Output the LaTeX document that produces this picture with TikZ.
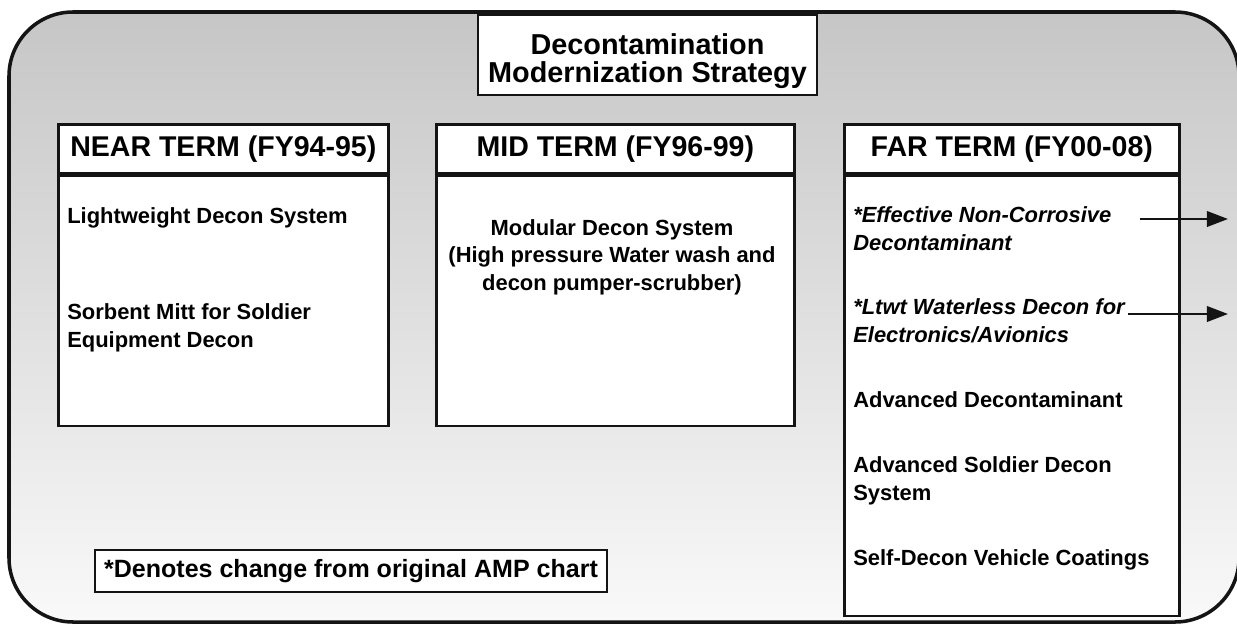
\documentclass[tikz,border=0pt]{standalone}
\usepackage{fontspec}
\setmainfont{Liberation Sans}
\usetikzlibrary{arrows.meta, positioning}
\definecolor{colFrame}{RGB}{20,20,20}
\definecolor{colTop}{RGB}{198,198,198}
\definecolor{colMid}{RGB}{234,234,234}
\definecolor{colBottom}{RGB}{249,249,249}
\tikzset{
    outerframe/.style={draw=colFrame, line width=2.5pt, rounded corners=1.6cm},
    titlebox/.style={rectangle, draw=colFrame, line width=1.8pt, fill=white, align=center,
        minimum width=8.475cm, minimum height=2cm, inner sep=0pt,
        font=\fontsize{20.5}{20}\selectfont\bfseries},
    headbox/.style={rectangle, draw=colFrame, line width=1.8pt, fill=white, anchor=north west,
        minimum height=1.225cm, inner sep=0pt, font=\fontsize{20.3}{24}\selectfont\bfseries},
    bodybox/.style={rectangle, draw=colFrame, line width=1.8pt, fill=white, inner sep=0pt},
    item/.style={anchor=base west, align=left, inner sep=0pt,
        font=\fontsize{15.6}{19.5}\selectfont\bfseries},
    newitem/.style={item, font=\fontsize{15.6}{19.5}\selectfont\bfseries\itshape},
    notebox/.style={rectangle, draw=colFrame, line width=1.8pt, fill=white, inner sep=0pt,
        minimum width=12.8cm, minimum height=1.05cm, font=\fontsize{17.8}{20}\selectfont\bfseries},
    sepline/.style={draw=colFrame, line width=3pt},
    arrow/.style={-{Triangle[length=15pt, width=11pt]}, line width=1.7pt, draw=colFrame}
}

\begin{document}
\begin{tikzpicture}[x=0.025cm, y=-0.025cm]

    \useasboundingbox (0,0) rectangle (1237,625);

    \shade[top color=colTop, middle color=colMid, bottom color=colBottom, rounded corners=1.6cm]
        (9,12) rectangle (1239,622);
    \draw[outerframe] (9,12) rectangle (1239,622);

    \node[titlebox] (title) at (647.5,55) {\rule{0pt}{24pt}Decontamination\\Modernization Strategy};

    \node[headbox, minimum width=8.25cm] (nearhd) at (57,123) {NEAR TERM (FY94-95)};
    \node[bodybox, below=0pt of nearhd, minimum width=8.25cm, minimum height=6.25cm] (nearbd) {};
    \draw[sepline] (nearhd.south west) -- (nearhd.south east);

    \node[headbox, minimum width=8.95cm] (midhd) at (435,123) {MID TERM (FY96-99)};
    \node[bodybox, below=0pt of midhd, minimum width=8.95cm, minimum height=6.25cm] (midbd) {};
    \draw[sepline] (midhd.south west) -- (midhd.south east);

    \node[headbox, minimum width=8.375cm] (farhd) at (843,123) {FAR TERM (FY00-08)};
    \node[bodybox, below=0pt of farhd, minimum width=8.375cm, minimum height=11cm] (farbd) {};
    \draw[sepline] (farhd.south west) -- (farhd.south east);

    \node[item] (lwds) at (67,223) {Lightweight Decon System};
    \node[item] (mitt) at (67,347) {Sorbent Mitt for Soldier\\Equipment Decon};

    \node[item, anchor=base, align=center] (mds) at (612,290)
        {Modular Decon System\\(High pressure Water wash and\\decon pumper-scrubber)};

    \node[newitem] (eff) at (853,250) {*Effective Non-Corrosive\\Decontaminant};
    \node[newitem] (ltwt) at (853,342) {*Ltwt Waterless Decon for\\Electronics/Avionics};
    \node[item] (advdc) at (853,407) {Advanced Decontaminant};
    \node[item] (asds) at (853,500) {Advanced Soldier Decon\\System};
    \node[item] (sdvc) at (853,565) {Self-Decon Vehicle Coatings};

    \node[notebox] (note) at (351,571) {*Denotes change from original AMP chart};

    \coordinate (effout) at (1228,219);
    \coordinate (ltwtout) at (1228,314);
    \draw[arrow] ([xshift=20pt]eff.east |- effout) -- (effout);
    \draw[arrow] ([xshift=2pt]ltwt.east |- ltwtout) -- (ltwtout);

\end{tikzpicture}
\end{document}
